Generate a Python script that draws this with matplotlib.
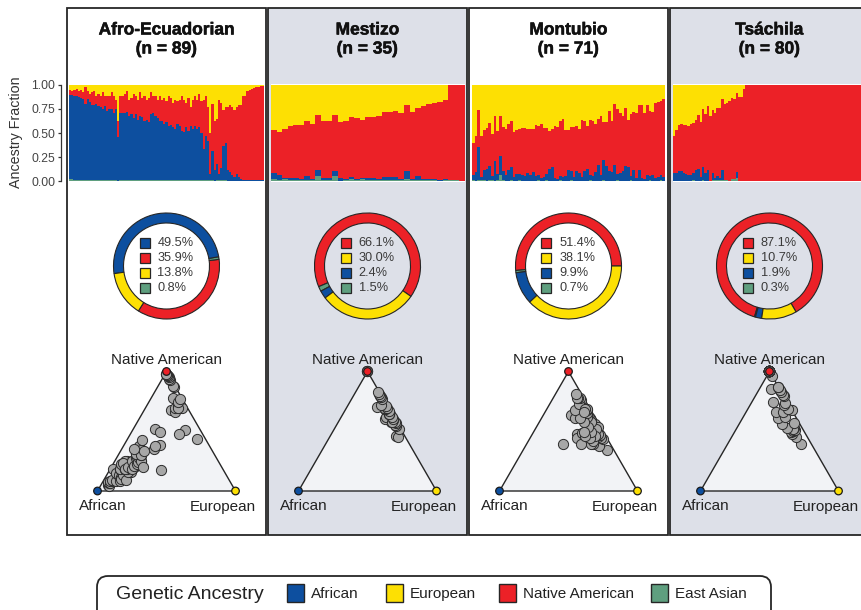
import numpy as np
import matplotlib
matplotlib.use("Agg")
import matplotlib.pyplot as plt
import matplotlib.patheffects as pe
from matplotlib.patches import Rectangle, Polygon, FancyBboxPatch

plt.rcParams['font.family'] = ['Liberation Sans', 'DejaVu Sans']

W, H = 862, 610

# ---------------------------------------------------------------- data
components = ["African", "European", "Native American", "East Asian"]
colors = {"African": "#0d4f9f", "European": "#fde003",
          "Native American": "#ec2127", "East Asian": "#5f9f7f"}

populations = ["Afro-Ecuadorian", "Mestizo", "Montubio", "Tsáchila"]
sample_sizes = [89, 35, 71, 80]

# mean ancestry (%): African, European, Native American, East Asian
mean_afro = [49.5, 13.8, 35.9, 0.8]
mean_mestizo = [2.4, 30.0, 66.1, 1.5]
mean_montubio = [9.9, 38.1, 51.4, 0.7]
mean_tsachila = [1.9, 10.7, 87.1, 0.3]

# individual ancestry fractions (Native American is the remainder)
afro_african = [
    0.88, 0.88, 0.87, 0.87, 0.86, 0.85, 0.84, 0.79, 0.84, 0.81,
    0.78, 0.78, 0.79, 0.77, 0.76, 0.74, 0.77, 0.72, 0.74, 0.74,
    0.70, 0.74, 0.45, 0.70, 0.70, 0.70, 0.71, 0.67, 0.69, 0.65,
    0.69, 0.63, 0.67, 0.65, 0.62, 0.63, 0.60, 0.69, 0.70, 0.67,
    0.65, 0.62, 0.62, 0.58, 0.60, 0.56, 0.57, 0.55, 0.53, 0.58,
    0.56, 0.51, 0.50, 0.55, 0.51, 0.56, 0.53, 0.56, 0.53, 0.55,
    0.49, 0.32, 0.46, 0.41, 0.06, 0.30, 0.11, 0.17, 0.06, 0.13,
    0.35, 0.39, 0.11, 0.09, 0.06, 0.04, 0.07, 0.04, 0.02, 0.01,
    0.01, 0.01, 0.01, 0.01, 0.01, 0.01, 0.01, 0.01, 0.01]
afro_european = [
    0.05, 0.06, 0.05, 0.04, 0.06, 0.05, 0.07, 0.02, 0.06, 0.09,
    0.07, 0.06, 0.12, 0.09, 0.11, 0.07, 0.12, 0.11, 0.12, 0.07,
    0.11, 0.16, 0.37, 0.11, 0.11, 0.09, 0.06, 0.16, 0.14, 0.09,
    0.12, 0.16, 0.07, 0.14, 0.12, 0.16, 0.14, 0.07, 0.11, 0.12,
    0.16, 0.12, 0.16, 0.14, 0.17, 0.12, 0.14, 0.19, 0.16, 0.17,
    0.16, 0.11, 0.16, 0.19, 0.14, 0.23, 0.16, 0.12, 0.16, 0.09,
    0.17, 0.16, 0.11, 0.23, 0.50, 0.20, 0.38, 0.35, 0.16, 0.19,
    0.26, 0.23, 0.23, 0.21, 0.23, 0.26, 0.23, 0.21, 0.21, 0.12,
    0.11, 0.06, 0.05, 0.04, 0.03, 0.02, 0.02, 0.01, 0.01]
afro_eastasian = [
    0.02, 0.02, 0.015, 0.015, 0.015, 0.015, 0.01, 0.01, 0.01, 0.015,
    0.01, 0.01, 0.01, 0.01, 0.01, 0.01, 0.015, 0.01, 0.01, 0.01,
    0.01, 0.01, 0.005, 0.01, 0.01, 0.01, 0.01, 0.01, 0.01, 0.01,
    0.01, 0.01, 0.01, 0.015, 0.01, 0.01, 0.01, 0.01, 0.01, 0.01,
    0.01, 0.01, 0.01, 0.01, 0.01, 0.01, 0.01, 0.01, 0.01, 0.01,
    0.01, 0.01, 0.01, 0.01, 0.015, 0.01, 0.01, 0.01, 0.01, 0.01,
    0.01, 0.01, 0.01, 0.01, 0.01, 0.01, 0.005, 0.01, 0.01, 0.01,
    0.01, 0.01, 0.005, 0.005, 0.005, 0.005, 0.005, 0.005, 0.005, 0.005,
    0.005, 0.005, 0.005, 0.005, 0.005, 0.005, 0.005, 0.005, 0.005]

mestizo_african = [
    0.06, 0.05, 0.01, 0.02, 0.02, 0.01, 0.04, 0.01, 0.07, 0.02,
    0.02, 0.05, 0.03, 0.01, 0.02, 0.01, 0.01, 0.02, 0.02, 0.01,
    0.03, 0.03, 0.03, 0.01, 0.08, 0.01, 0.04, 0.01, 0.01, 0.01,
    0.01, 0.01, 0.0, 0.0, 0.0]
mestizo_european = [
    0.47, 0.49, 0.46, 0.43, 0.42, 0.42, 0.38, 0.41, 0.31, 0.38,
    0.37, 0.31, 0.39, 0.38, 0.33, 0.34, 0.36, 0.33, 0.33, 0.32,
    0.28, 0.28, 0.27, 0.29, 0.21, 0.28, 0.24, 0.22, 0.20, 0.19,
    0.18, 0.16, 0.0, 0.0, 0.0]
mestizo_eastasian = [
    0.02, 0.01, 0.02, 0.01, 0.01, 0.01, 0.01, 0.01, 0.05, 0.01,
    0.01, 0.05, 0.0, 0.01, 0.02, 0.01, 0.02, 0.01, 0.01, 0.01,
    0.01, 0.01, 0.01, 0.01, 0.02, 0.01, 0.01, 0.01, 0.01, 0.01,
    0.0, 0.01, 0.01, 0.01, 0.0]

montubio_african = [
    0.05, 0.09, 0.34, 0.03, 0.10, 0.12, 0.15, 0.04, 0.20, 0.06,
    0.20, 0.09, 0.06, 0.11, 0.14, 0.04, 0.07, 0.06, 0.06, 0.05,
    0.08, 0.06, 0.09, 0.05, 0.05, 0.03, 0.04, 0.06, 0.12, 0.14,
    0.03, 0.02, 0.04, 0.04, 0.05, 0.11, 0.09, 0.04, 0.10, 0.08,
    0.04, 0.10, 0.12, 0.05, 0.05, 0.09, 0.16, 0.06, 0.21, 0.15,
    0.10, 0.09, 0.16, 0.06, 0.08, 0.10, 0.15, 0.14, 0.04, 0.11,
    0.03, 0.11, 0.03, 0.02, 0.06, 0.04, 0.06, 0.03, 0.04, 0.05, 0.04]
montubio_european = [
    0.60, 0.53, 0.26, 0.53, 0.47, 0.45, 0.40, 0.51, 0.32, 0.48,
    0.32, 0.44, 0.46, 0.41, 0.38, 0.49, 0.47, 0.46, 0.45, 0.45,
    0.46, 0.46, 0.46, 0.42, 0.43, 0.41, 0.45, 0.45, 0.48, 0.46,
    0.43, 0.44, 0.37, 0.35, 0.47, 0.47, 0.44, 0.44, 0.43, 0.46,
    0.36, 0.37, 0.43, 0.36, 0.37, 0.41, 0.35, 0.32, 0.39, 0.39,
    0.27, 0.37, 0.20, 0.25, 0.29, 0.32, 0.24, 0.36, 0.30, 0.28,
    0.29, 0.21, 0.21, 0.29, 0.21, 0.27, 0.28, 0.19, 0.18, 0.17, 0.15]
montubio_eastasian = [
    0.01, 0.005, 0.01, 0.01, 0.01, 0.005, 0.01, 0.01, 0.005, 0.01,
    0.06, 0.01, 0.005, 0.005, 0.01, 0.005, 0.005, 0.01, 0.005, 0.005,
    0.005, 0.005, 0.005, 0.005, 0.01, 0.005, 0.005, 0.015, 0.005, 0.005,
    0.005, 0.005, 0.01, 0.005, 0.005, 0.005, 0.01, 0.005, 0.005, 0.005,
    0.005, 0.005, 0.005, 0.01, 0.005, 0.005, 0.005, 0.005, 0.01, 0.005,
    0.005, 0.005, 0.005, 0.01, 0.005, 0.005, 0.005, 0.005, 0.01, 0.005,
    0.005, 0.005, 0.005, 0.005, 0.005, 0.01, 0.005, 0.005, 0.005, 0.01, 0.005]

tsachila_african = [
    0.08, 0.08, 0.10, 0.10, 0.08, 0.07, 0.06, 0.06, 0.07, 0.11,
    0.13, 0.04, 0.13, 0.08, 0.12, 0.0, 0.07, 0.02, 0.04, 0.02,
    0.10, 0.0, 0.0, 0.0, 0.0, 0.0, 0.06, 0.0, 0.0, 0.0,
    0.0, 0.0, 0.0, 0.0, 0.0, 0.0, 0.0, 0.0, 0.0, 0.0,
    0.0, 0.0, 0.0, 0.0, 0.0, 0.0, 0.0, 0.0, 0.0, 0.0,
    0.0, 0.0, 0.0, 0.0, 0.0, 0.0, 0.0, 0.0, 0.0, 0.0,
    0.0, 0.0, 0.0, 0.0, 0.0, 0.0, 0.0, 0.0, 0.0, 0.0,
    0.0, 0.0, 0.0, 0.0, 0.0, 0.0, 0.0, 0.0, 0.0, 0.0]
tsachila_european = [
    0.53, 0.47, 0.42, 0.41, 0.42, 0.42, 0.43, 0.41, 0.40, 0.36,
    0.31, 0.39, 0.25, 0.30, 0.22, 0.32, 0.26, 0.29, 0.24, 0.24,
    0.15, 0.20, 0.19, 0.17, 0.14, 0.15, 0.08, 0.13, 0.13, 0.04,
    0.0, 0.0, 0.0, 0.0, 0.0, 0.0, 0.0, 0.0, 0.0, 0.0,
    0.0, 0.0, 0.0, 0.0, 0.0, 0.0, 0.0, 0.0, 0.0, 0.0,
    0.0, 0.0, 0.0, 0.0, 0.0, 0.0, 0.0, 0.0, 0.0, 0.0,
    0.0, 0.0, 0.0, 0.0, 0.0, 0.0, 0.0, 0.0, 0.0, 0.0,
    0.0, 0.0, 0.0, 0.0, 0.0, 0.0, 0.0, 0.0, 0.0, 0.0]
tsachila_eastasian = [
    0.0, 0.0, 0.0, 0.0, 0.0, 0.0, 0.0, 0.0, 0.015, 0.0,
    0.0, 0.0, 0.015, 0.0, 0.0, 0.0, 0.015, 0.015, 0.015, 0.015,
    0.015, 0.015, 0.015, 0.0, 0.02, 0.02, 0.03, 0.0, 0.0, 0.0,
    0.0, 0.0, 0.0, 0.0, 0.0, 0.0, 0.0, 0.0, 0.0, 0.0,
    0.0, 0.0, 0.0, 0.0, 0.0, 0.0, 0.0, 0.0, 0.0, 0.0,
    0.0, 0.0, 0.0, 0.0, 0.0, 0.0, 0.0, 0.0, 0.0, 0.0,
    0.0, 0.0, 0.0, 0.0, 0.0, 0.0, 0.0, 0.0, 0.0, 0.0,
    0.0, 0.0, 0.0, 0.0, 0.0, 0.0, 0.0, 0.0, 0.0, 0.0]

individuals = [
    (afro_african, afro_european, afro_eastasian),
    (mestizo_african, mestizo_european, mestizo_eastasian),
    (montubio_african, montubio_european, montubio_eastasian),
    (tsachila_african, tsachila_european, tsachila_eastasian),
]
means = [mean_afro, mean_mestizo, mean_montubio, mean_tsachila]
donut_start = [238, 325, 0, 300]

yticks = [0.0, 0.25, 0.50, 0.75, 1.00]
ytick_labels = ["0.00", "0.25", "0.50", "0.75", "1.00"]

# ---------------------------------------------------------------- layout
panel_x = [67, 268, 469, 670]
panel_w = 199
panel_fill = ["white", "#dde0e8", "white", "#dde0e8"]
bar_left = [69, 271, 472, 673]
bar_w = [195, 194, 193, 193]
edge = "#262626"
heavy = [pe.withStroke(linewidth=0.35, foreground="#111111")]

fig = plt.figure(figsize=(W / 100, H / 100), dpi=100)

bg = fig.add_axes([0, 0, 1, 1])
bg.set_xlim(0, W)
bg.set_ylim(H, 0)
bg.axis("off")
bg.set_zorder(-5)

for x0, fc in zip(panel_x, panel_fill):
    bg.add_patch(Rectangle((x0, 8), panel_w, 527, facecolor=fc,
                           edgecolor=edge, lw=1.3))

for k, pop in enumerate(populations):
    cx = panel_x[k] + panel_w / 2
    afr = np.array(individuals[k][0])
    eur = np.array(individuals[k][1])
    eas = np.array(individuals[k][2])
    nat = 1.0 - afr - eur - eas

    # titles
    fig.text(cx / W, 1 - 34.5 / H, pop, ha="center", va="baseline",
             fontsize=12.5, fontweight="bold", color="#111111",
             path_effects=heavy)
    fig.text(cx / W, 1 - 53.5 / H, f"(n = {sample_sizes[k]})", ha="center",
             va="baseline", fontsize=12.5, fontweight="bold",
             color="#111111", path_effects=heavy)

    # stacked admixture bars
    ax = fig.add_axes([bar_left[k] / W, 1 - 182 / H, bar_w[k] / W, 98 / H])
    n = len(afr)
    x = np.arange(n)
    bottom = np.zeros(n)
    for vals, key in [(eas, "East Asian"), (afr, "African"),
                      (nat, "Native American"), (eur, "European")]:
        ax.bar(x, vals, bottom=bottom, width=1.0, color=colors[key],
               linewidth=0, antialiased=False)
        bottom = bottom + vals
    ax.set_xlim(-0.5, n - 0.5)
    ax.set_ylim(-0.01, 1.01)
    ax.set_facecolor("white")
    for s in ax.spines.values():
        s.set_visible(False)
    ax.set_xticks([])
    if k == 0:
        ax.spines["left"].set_visible(True)
        ax.spines["left"].set_position(("outward", 5.8))
        ax.spines["left"].set_bounds(0, 1)
        ax.spines["left"].set_color("#333333")
        ax.spines["left"].set_linewidth(0.9)
        ax.set_yticks(yticks)
        ax.set_yticklabels(ytick_labels)
        ax.tick_params(axis="y", length=2.5, width=0.9, color="#333333",
                       labelsize=8.8, labelcolor="#444444", pad=1.5)
    else:
        ax.set_yticks([])

    # donut of mean ancestry
    cy = 266
    dax = fig.add_axes([(cx - 65) / W, 1 - (cy + 65) / H, 130 / W, 130 / H])
    order = [2, 3, 0, 1]  # Native American, East Asian, African, European
    dax.pie([means[k][i] for i in order],
            colors=[colors[components[i]] for i in order],
            startangle=donut_start[k], counterclock=True, radius=53,
            wedgeprops=dict(width=10, edgecolor=edge, linewidth=0.8))
    dax.set_xlim(-65, 65)
    dax.set_ylim(-65, 65)
    dax.axis("off")
    ranked = sorted(range(4), key=lambda i: -means[k][i])
    for r, i in enumerate(ranked):
        yy = 23 - 15 * r
        dax.add_patch(Rectangle((-27, yy - 5), 10, 10,
                                facecolor=colors[components[i]],
                                edgecolor=edge, lw=0.9))
        dax.text(-9, yy, f"{means[k][i]:.1f}%", ha="left", va="center",
                 fontsize=9.2, color="#3a3a3a")

    # ternary plot
    h = np.sqrt(3) / 2
    tax = fig.add_axes([(cx - 95) / W, 1 - 520 / H, 190 / W, 175 / H])
    tax.set_xlim(-26 / 138, 164 / 138)
    tax.set_ylim(-29 / 138, 146 / 138)
    tax.axis("off")
    tax.add_patch(Polygon([(0, 0), (1, 0), (0.5, h)], closed=True,
                          facecolor="#f2f3f6", edgecolor=edge, lw=1.0))
    tot = afr + eur + nat
    tx = (eur + nat / 2) / tot
    ty = nat / tot * h
    tax.scatter(tx, ty, s=54, c="#a7a7a7", edgecolors="#2b2b2b",
                linewidths=0.7, zorder=3, clip_on=False)
    tax.scatter([0, 1, 0.5], [0, 0, h], s=30,
                c=[colors["African"], colors["European"],
                   colors["Native American"]],
                edgecolors="#1a1a1a", linewidths=0.9, zorder=4, clip_on=False)
    tax.text(0.5, (491 - 363.5) / 138, "Native American", ha="center",
             va="baseline", fontsize=11, color="#222222")
    tax.text(5 / 138, -19.5 / 138, "African", ha="center", va="baseline",
             fontsize=11, color="#222222")
    tax.text(125 / 138, -19.5 / 138, "European", ha="center", va="baseline",
             fontsize=11, color="#222222")

fig.text(16.5 / W, 1 - 132 / H, "Ancestry Fraction", rotation=90,
         ha="center", va="center", fontsize=10.3, color="#333333")

# ---------------------------------------------------------------- legend
bg.add_patch(FancyBboxPatch((97, 576), 674, 50,
                            boxstyle="round,pad=0,rounding_size=11",
                            facecolor="white", edgecolor=edge, lw=1.3))
bg.text(116, 599, "Genetic Ancestry", ha="left", va="baseline",
        fontsize=14, color="#222222")
legend_x = [287, 386, 499, 651]
for lx, name in zip(legend_x, components):
    bg.add_patch(Rectangle((lx, 584), 17, 18, facecolor=colors[name],
                           edgecolor=edge, lw=1.0))
    bg.text(lx + 24, 598, name, ha="left", va="baseline", fontsize=11,
            color="#222222")

fig.savefig("out.png", dpi=100)
